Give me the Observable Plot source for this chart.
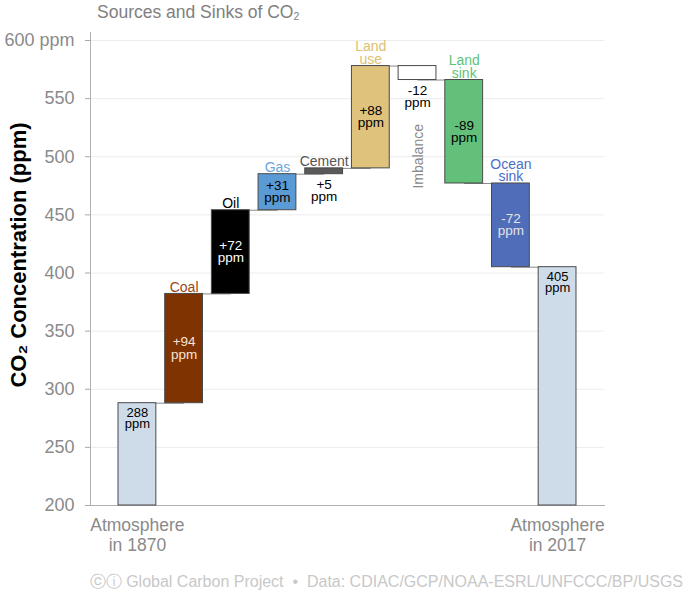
<!DOCTYPE html>
<html><head><meta charset="utf-8">
<script src="https://cdn.jsdelivr.net/npm/d3@7"></script>
<script src="https://cdn.jsdelivr.net/npm/@observablehq/plot@0.6"></script>
<style>
body{margin:0;background:#fff;font-family:"Liberation Sans",Arial,Helvetica,sans-serif;width:685px;}
#title{height:28px;padding-left:97px;font-size:17.5px;color:#808080;line-height:24px;white-space:nowrap;}
#title sub{font-size:10.5px;vertical-align:-2px;}
#caption{margin-top:16px;height:22px;line-height:22px;text-align:right;padding-right:2px;font-size:16px;color:#c8c8c8;white-space:nowrap;}
</style></head><body>
<div id="title">Sources and Sinks of CO<sub>2</sub></div>
<div id="chart"></div>
<div id="caption">ⓒⓘ Global Carbon Project&nbsp; • &nbsp;Data: CDIAC/GCP/NOAA-ESRL/UNFCCC/BP/USGS</div>
<script>
const categories = ["Atmosphere in 1870","Coal","Oil","Gas","Cement","Land use","Imbalance","Land sink","Ocean sink","Atmosphere in 2017"];
const atmosphere1870 = 288;
const fluxes = [94, 72, 31, 5, 88, -12, -89, -72]; // Coal .. Ocean sink
const atmosphere2017 = 405;
const fills = ["#cedcea","#7f3300","#000000","#5b9bd5","#5a5a5a","#dfc37d","#ffffff","#63c07a","#4f6db8","#cedcea"];
const nameColors = ["#888","#9a4514","#000000","#6aa6da","#555555","#dcbf72","#888888","#5fc27a","#4c6ec6","#888"];
const valueColors = ["#000","#f4e4d4","#ffffff","#000","#000","#000","#000","#000","#e4e4e4","#000"];
const yTicks = [200,250,300,350,400,450,500,550,600];
const yMin = 200, yMax = 600;

// build waterfall rows
let level = atmosphere1870;
const rows = categories.map((cat, i) => {
  if (i === 0) return {cat, i, lo: yMin, hi: atmosphere1870, end: atmosphere1870, total: true, value: atmosphere1870};
  if (i === categories.length - 1) return {cat, i, lo: yMin, hi: atmosphere2017, end: atmosphere2017, total: true, value: atmosphere2017};
  const f = fluxes[i - 1];
  const s = level; level += f;
  return {cat, i, lo: Math.min(s, level), hi: Math.max(s, level), end: level, total: false, value: f};
});
const links = rows.slice(0, -1).map((d, i) => ({a: d.cat, b: rows[i + 1].cat, y: d.end}));
const fmt = d => d.total ? `${d.value}\nppm` : `${d.value > 0 ? "+" : ""}${d.value}\nppm`;
const topValue = rows.filter(d => d.total);
const midValue = rows.filter(d => !d.total && Math.abs(d.value) >= 20);
const belowValue = rows.filter(d => !d.total && Math.abs(d.value) < 20);
const named = rows.filter(d => !d.total && d.cat !== "Imbalance");
const imbalance = rows.filter(d => d.cat === "Imbalance");

const font = `"Liberation Sans",Arial,Helvetica,sans-serif`;
const chart = Plot.plot({
  width: 685, height: 527,
  marginTop: 12, marginBottom: 50, marginLeft: 90, marginRight: 81,
  style: {fontFamily: font, background: "white", overflow: "visible"},
  x: {domain: categories, paddingInner: 0.19, paddingOuter: 0.6, round: false, axis: null},
  y: {domain: [yMin, yMax], axis: null},
  marks: [
    Plot.gridY(yTicks.slice(1), {stroke: "#ececec", strokeOpacity: 1}),
    Plot.axisY(yTicks, {tickSize: 5, tickPadding: 11, fontSize: 18, color: "#8a8a8a", stroke: "#aaa", label: null,
      tickFormat: d => d === yMax ? `${d} ppm` : `${d}`}),
    Plot.frame({anchor: "left", stroke: "#b0b0b0", insetTop: -8}),
    Plot.frame({anchor: "bottom", stroke: "#b0b0b0"}),
    Plot.axisX(categories, {tickSize: 0, tickPadding: 11, fontSize: 17.5, color: "#8a8a8a", label: null, lineHeight: 1.15,
      tickFormat: d => d.startsWith("Atmosphere") ? d.replace(" in ", "\nin ") : ""}),
    Plot.text(["CO₂ Concentration (ppm)"], {frameAnchor: "left", textAnchor: "middle", dx: -72, dy: -18, rotate: -90, fontSize: 22, fontWeight: "bold", fill: "#000"}),
    Plot.link(links, {x1: "a", x2: "b", y1: "y", y2: "y", stroke: "#8a8a8a", strokeWidth: 1}),
    Plot.barY(rows, {x: "cat", y1: "lo", y2: "hi", fill: d => fills[d.i], stroke: "#4a4a4a", strokeWidth: 1}),
    Plot.text(named, {x: "cat", y: "hi", text: d => d.cat.replace(" ", "\n"), lineAnchor: "bottom", dy: -2,
      fontSize: 14, lineHeight: 0.9, fill: d => nameColors[d.i]}),
    Plot.text(topValue, {x: "cat", y: "hi", text: fmt, lineAnchor: "top", dy: 5, fontSize: 13, lineHeight: 0.9, fill: d => valueColors[d.i]}),
    Plot.text(midValue, {x: "cat", y: d => (d.lo + d.hi) / 2, text: fmt, lineAnchor: "middle", fontSize: 13.5, lineHeight: 0.9, fill: d => valueColors[d.i]}),
    Plot.text(belowValue, {x: "cat", y: "lo", text: fmt, lineAnchor: "top", dy: 6, fontSize: 13.5, lineHeight: 0.9, fill: d => valueColors[d.i]}),
    Plot.text(imbalance, {x: "cat", y: "lo", text: d => d.cat, rotate: -90, textAnchor: "end", dy: 44, dx: 1, fontSize: 14, fill: d => nameColors[d.i]})
  ]
});
document.getElementById("chart").appendChild(chart);
</script>
</body></html>
